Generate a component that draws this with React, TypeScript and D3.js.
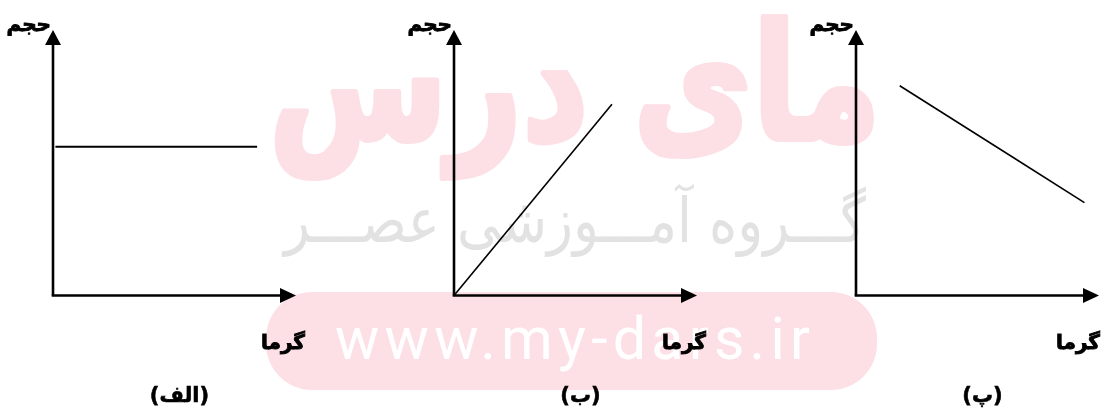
import React from "react";
import * as d3 from "d3";

// ---- data ----
const panelLabels = ["(الف)", "(ب)", "(پ)"];
const xAxisTitle = "گرما";
const yAxisTitle = "حجم";
// each panel: line from (x0,y0) to (x1,y1) in axis units (0..10)
const lineX0 = [0.1, 0.0, 1.8];
const lineY0 = [5.6, 0.0, 7.9];
const lineX1 = [8.4, 6.5, 9.4];
const lineY1 = [5.6, 7.2, 3.5];
const watermarkTitle = "مای درس";
const watermarkGroup = "گـــروه آمـــوزشی عصـــر";
const watermarkUrl = "www.my-dars.ir";

// ---- layout ----
const W = 1104;
const H = 412;
const originXs = [53, 454, 856];
const originY = 295.5;
const axisLen = 243;
const axisTop = 30;
const FA = "'DejaVu Sans', sans-serif";

function Panel({ i }: { i: number }) {
  const ox = originXs[i];
  const x = d3.scaleLinear().domain([0, 10]).range([ox, ox + axisLen]);
  const y = d3.scaleLinear().domain([0, 10]).range([originY, axisTop]);
  const line = d3
    .line<[number, number]>()
    .x((d) => x(d[0]))
    .y((d) => y(d[1]));
  const tipX = x(10);
  const tipY = y(10);
  const yArrow = `M${ox},${tipY} L${ox - 8},${tipY + 15} L${ox + 8},${tipY + 15} Z`;
  const xArrow = `M${tipX},${originY} L${tipX - 16},${originY - 7.5} L${tipX - 16},${originY + 7.5} Z`;
  const boldText = { fontFamily: FA, fontWeight: 700, fill: "#000", stroke: "#000", strokeWidth: 0.9 } as const;
  return (
    <g>
      <line x1={ox} y1={originY} x2={ox} y2={tipY + 10} stroke="#000" strokeWidth={2.6} />
      <path d={yArrow} fill="#000" />
      <line x1={ox - 1.3} y1={originY} x2={tipX - 10} y2={originY} stroke="#000" strokeWidth={2.6} />
      <path d={xArrow} fill="#000" />
      <path
        d={line([
          [lineX0[i], lineY0[i]],
          [lineX1[i], lineY1[i]],
        ]) as string}
        stroke="#000"
        strokeWidth={i === 0 ? 2 : 1.6}
        fill="none"
      />
      <text x={ox - 2} y={31} textAnchor="end" fontSize={20} {...boldText}>
        {yAxisTitle}
      </text>
      <text x={Math.min(tipX + 9, W - 4)} y={349} textAnchor="end" fontSize={20} {...boldText}>
        {xAxisTitle}
      </text>
      <text x={(ox + tipX) / 2 + 5} y={402} textAnchor="middle" fontSize={21} {...boldText} strokeWidth={0.6}>
        {panelLabels[i]}
      </text>
    </g>
  );
}

export default function App() {
  return (
    <svg
      width={W}
      height={H}
      viewBox={`0 0 ${W} ${H}`}
      style={{ position: "absolute", left: 0, top: 0, background: "#fff" }}
    >
      <rect x={0} y={0} width={W} height={H} fill="#fff" />
      {panelLabels.map((_, i) => (
        <Panel key={i} i={i} />
      ))}
      <g style={{ mixBlendMode: "multiply" }}>
        <text
          x={575}
          y={139}
          textAnchor="middle"
          fontFamily={FA}
          fontWeight="bold"
          fontSize={160}
          fill="#fde0e6"
          stroke="#fde0e6"
          strokeWidth={6}
          strokeLinejoin="round"
          textLength={612}
          lengthAdjust="spacingAndGlyphs"
        >
          {watermarkTitle}
        </text>
        <text
          x={575}
          y={242}
          textAnchor="middle"
          fontFamily={FA}
          fontSize={62}
          fill="#e2e2e2"
          textLength={582}
          lengthAdjust="spacingAndGlyphs"
        >
          {watermarkGroup}
        </text>
        <rect x={266} y={292} width={611} height={98} rx={46} fill="#fde0e6" />
        <text
          x={335}
          y={359}
          textAnchor="start"
          fontFamily="Roboto, sans-serif"
          fontSize={59}
          fill="#fff"
          textLength={475}
          lengthAdjust="spacing"
        >
          {watermarkUrl}
        </text>
      </g>
    </svg>
  );
}
